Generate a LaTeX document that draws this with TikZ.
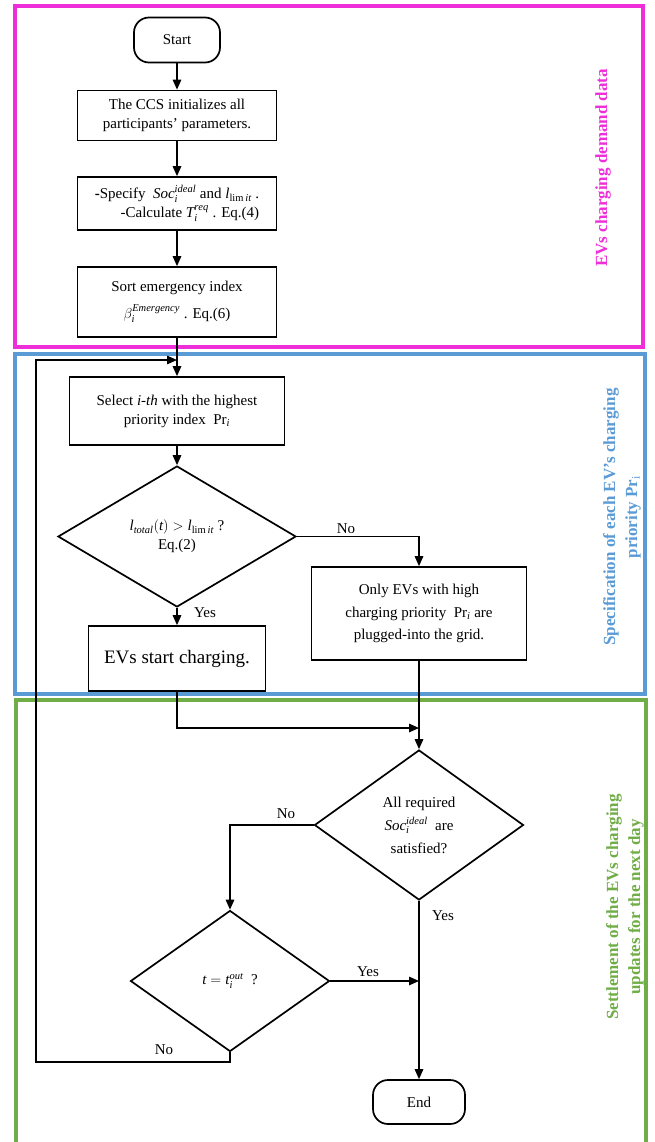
\documentclass[tikz,border=0pt]{standalone}
\usepackage{fontspec}
\setmainfont{Liberation Serif}
\usepackage{tikz}
\usetikzlibrary{arrows.meta,shapes.geometric,positioning}
\definecolor{black}{RGB}{0,0,0}
\definecolor{fpink}{RGB}{237,46,217}
\definecolor{fblue}{RGB}{91,155,213}
\definecolor{fgreen}{RGB}{112,173,71}
\tikzset{
  node_base/.style={
    draw=black,
    line width=1.7pt,
    inner sep=0pt,
    align=center,
    font=\fontsize{15}{19}\selectfont
  },
  stepbox/.style={node_base, rectangle, minimum width=199pt},
  decision/.style={node_base, diamond},
  term/.style={node_base, rectangle, rounded corners=15pt, minimum width=86pt, minimum height=45pt},
  flow_arrow/.style={line width=1.5pt, -{Triangle[length=10pt,width=8.5pt]}},
  flow_label/.style={font=\fontsize{15}{18}\selectfont, inner sep=0pt},
  frame/.style={line width=3.5pt},
  side_label/.style={rotate=90, align=center, font=\bfseries\fontsize{17}{22}\selectfont}
}

\begin{document}
\begin{tikzpicture}[x=1pt,y=-1pt]
\useasboundingbox (0,0) rectangle (655,1142);
% section frames
\draw[frame, fpink] (15,6) rectangle (643,347);
\draw[frame, fblue] (15,354) rectangle (645,694);
\draw[frame, fgreen] (16,700) rectangle (646,1150);
\node[side_label, text=fpink] (lab_demand) at (603,168) {EVs charging demand data};
\node[side_label, text=fblue] (lab_priority) at (622,517) {Specification of each EV's charging\\ priority Pr$_{\mathrm{i}}$};
\node[side_label, text=fgreen] (lab_settle) at (625,907) {Settlement of the EVs charging\\ updates for the next day};

% first part
\node[term] (start) at (177,40) {Start};
\node[stepbox, minimum height=50pt] (init) at (177,115.5) {The CCS initializes all\\ participants' parameters.};
\node[stepbox, minimum height=53pt, align=right] (spec) at (177,203.5) {\textbf{-}Specify\ \ $\mathit{Soc}_{\mathit{i}}^{\mathit{ideal}}$ and $\mathit{l}_{\mathrm{lim}\,\mathit{it}}$ .\\ -Calculate $\mathit{T}_{\mathit{i}}^{\mathit{req}}$ . Eq.(4)};
\node[stepbox, minimum height=70pt, font=\fontsize{15}{27}\selectfont] (sort) at (177,302) {Sort emergency index\\ $\beta_{\mathit{i}}^{\mathit{Emergency}}$ . Eq.(6)};
\draw[flow_arrow] (start) -- (init);
\draw[flow_arrow] (init) -- (spec);
\draw[flow_arrow] (spec) -- (sort);

% second part
\node[stepbox, minimum width=215pt, minimum height=68pt] (select) at (177,411) {Select \textit{i-th} with the highest\\ priority index\ \ $\mathrm{Pr}_{\mathit{i}}$};
\node[decision, minimum width=238pt, minimum height=141pt] (dec1) at (177,536.5) {$\mathit{l}_{\mathit{total}}(\mathit{t}) > \mathit{l}_{\mathrm{lim}\,\mathit{it}}$ ?\\ Eq.(2)};
\node[stepbox, minimum width=177pt, minimum height=65pt, font=\fontsize{19}{22}\selectfont] (charge) at (177,658.5) {EVs start charging.};
\node[stepbox, minimum width=215pt, minimum height=93pt, font=\fontsize{15}{22.5}\selectfont] (only) at (419,613.5) {Only EVs with high\\ charging priority\ \ $\mathrm{Pr}_{\mathit{i}}$ are\\ plugged-into the grid.};
\draw[flow_arrow] (sort) -- (select);
\draw[flow_arrow] (select) -- (dec1);
\draw[flow_arrow] (dec1) -- (charge);
\draw[flow_arrow] (dec1.east) -| (only.north);
\node[flow_label] (yes1) at (205,613) {Yes};
\node[flow_label] (no1) at (346,529) {No};

% third part
\node[decision, minimum width=209pt, minimum height=150pt, font=\fontsize{15}{23}\selectfont] (dec2) at (419,825) {All required\\ $\mathit{Soc}_{\mathit{i}}^{\mathit{ideal}}$\ \ are\\ satisfied?};
\node[decision, minimum width=199pt, minimum height=141pt] (dec3) at (230,981) {$\mathit{t} = \mathit{t}_{\mathit{i}}^{\mathit{out}}$\ \ ?};
\node[term, minimum width=92pt, minimum height=44pt] (end) at (419,1102) {End};
\coordinate (merge) at (419,728);
\coordinate (loop_bl) at (36,1062);
\coordinate (loop_tl) at (36,360);
\coordinate (loop_in) at (177,360);
\draw[flow_arrow] (charge.south) |- (merge);
\draw[flow_arrow] (only) -- (dec2);
\draw[flow_arrow] (dec2.west) -| (dec3.north);
\draw[flow_arrow] (dec3.east) -- (dec3.east -| dec2.south);
\draw[flow_arrow] (dec2) -- (end);
\draw[flow_arrow] (dec3.south) |- (loop_bl) -- (loop_tl) -- (loop_in);
\node[flow_label] (no2) at (286,814) {No};
\node[flow_label] (yes2) at (443,916) {Yes};
\node[flow_label] (yes3) at (368,972) {Yes};
\node[flow_label] (no3) at (164,1050) {No};

\end{tikzpicture}
\end{document}
